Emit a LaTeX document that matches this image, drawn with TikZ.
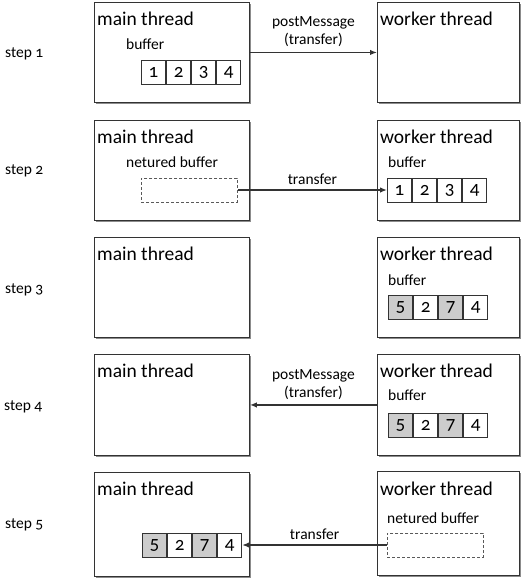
\documentclass[tikz,border=0pt]{standalone}
\usepackage{fontspec}
\setmainfont{Carlito}[Numbers=OldStyle]
\usetikzlibrary{arrows.meta,shadows}
\begin{document}
\begin{tikzpicture}[x=1pt,y=-1pt,
  thr/.style={draw=black!80, line width=0.9pt, fill=white, anchor=north west, inner sep=0pt,
    general shadow={fill=black!45, shadow xshift=1.6pt, shadow yshift=-1.6pt}},
  mainbox/.style={thr, minimum width=155pt, minimum height=100pt},
  workbox/.style={thr, minimum width=142pt, minimum height=100pt},
  ttl/.style={anchor=base west, inner sep=0pt, font=\fontsize{19.5}{20}\selectfont},
  lbl/.style={anchor=base west, inner sep=0pt, font=\fontsize{15.5}{18}\selectfont},
  albl/.style={inner sep=0pt, align=center, font=\fontsize{15.5}{18}\selectfont},
  cell/.style={draw=black!80, line width=0.8pt, fill=white, minimum width=24.25pt, minimum height=24pt,
    inner sep=0pt, anchor=west, font=\fontsize{19}{19}\selectfont},
  gcell/.style={cell, fill=black!20},
  nbuf/.style={draw=black!65, dashed, dash pattern=on 3pt off 2pt, line width=0.8pt, fill=white,
    minimum width=96pt, minimum height=24pt, inner sep=0pt, anchor=west},
  arr/.style={draw=black!80, line width=1.3pt, -{Latex[length=7pt,width=5.5pt]}}
]
\useasboundingbox (0,0) rectangle (524,579);

% step labels
\node[lbl] (s1) at (5,57) {step 1};
\node[lbl] (s2) at (5,174) {step 2};
\node[lbl] (s3) at (5,293) {step 3};
\node[lbl] (s4) at (4,410) {step 4};
\node[lbl] (s5) at (5,528) {step 5};

% ---------- step 1
\node[mainbox] (m1) at (94,2) {};
\node[workbox] (w1) at (377,2) {};
\node[ttl] (m1t) at (97,25) {main thread};
\node[ttl] (w1t) at (380,25) {worker thread};
\node[lbl] (m1b) at (126,49) {buffer};
\node[cell] (a1) at (141,72) {1};
\node[cell] (a2) at (a1.east) {2};
\node[cell] (a3) at (a2.east) {3};
\node[cell] (a4) at (a3.east) {4};
\draw[arr] (m1.east) -- node[albl, above=5pt] {postMessage\\(transfer)} (w1.west);

% ---------- step 2
\node[mainbox] (m2) at (94,120) {};
\node[workbox] (w2) at (377,120) {};
\node[ttl] (m2t) at (97,143) {main thread};
\node[ttl] (w2t) at (380,143) {worker thread};
\node[lbl] (m2b) at (126,167) {netured buffer};
\node[nbuf] (d2) at (141,190) {};
\node[lbl] (w2b) at (388,167) {buffer};
\node[cell] (b1) at (387,190) {1};
\node[cell] (b2) at (b1.east) {2};
\node[cell] (b3) at (b2.east) {3};
\node[cell] (b4) at (b3.east) {4};
\draw[arr] (d2.east) -- node[albl, above=5pt] {transfer} (b1.west);

% ---------- step 3
\node[mainbox] (m3) at (94,237) {};
\node[workbox] (w3) at (377,237) {};
\node[ttl] (m3t) at (97,260) {main thread};
\node[ttl] (w3t) at (380,260) {worker thread};
\node[lbl] (w3b) at (388,285) {buffer};
\node[gcell] (c1) at (388,307) {5};
\node[cell] (c2) at (c1.east) {2};
\node[gcell] (c3) at (c2.east) {7};
\node[cell] (c4) at (c3.east) {4};

% ---------- step 4
\node[mainbox, minimum height=101pt] (m4) at (94,354) {};
\node[workbox, minimum height=101pt] (w4) at (377,354) {};
\node[ttl] (m4t) at (97,377) {main thread};
\node[ttl] (w4t) at (380,377) {worker thread};
\node[lbl] (w4b) at (388,400) {buffer};
\node[gcell] (e1) at (388,425.5) {5};
\node[cell] (e2) at (e1.east) {2};
\node[gcell] (e3) at (e2.east) {7};
\node[cell] (e4) at (e3.east) {4};
\draw[arr] (w4.west) -- node[albl, above=5pt] {postMessage\\(transfer)} (m4.east);

% ---------- step 5
\node[mainbox, minimum height=104pt] (m5) at (94,472) {};
\node[workbox, minimum height=104pt] (w5) at (377,471) {};
\node[ttl] (m5t) at (97,495) {main thread};
\node[ttl] (w5t) at (380,495) {worker thread};
\node[lbl] (w5b) at (387,523) {netured buffer};
\node[nbuf] (d5) at (387,545) {};
\node[gcell] (f1) at (142,545) {5};
\node[cell] (f2) at (f1.east) {2};
\node[gcell] (f3) at (f2.east) {7};
\node[cell] (f4) at (f3.east) {4};
\draw[arr] (d5.west) -- node[albl, above=5pt] {transfer} (f4.east);
\end{tikzpicture}
\end{document}
